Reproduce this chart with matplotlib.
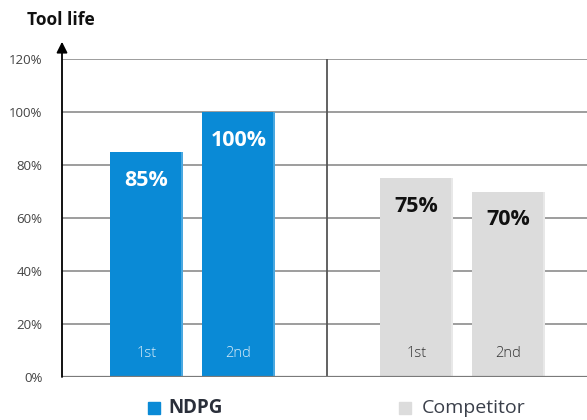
import matplotlib.pyplot as plt

plt.rcParams['font.family'] = ['Open Sans', 'DejaVu Sans']

groups = ["NDPG", "Competitor"]
runs = ["1st", "2nd"]
ndpg_vals = [85, 100]
comp_vals = [75, 70]
yticks = [0, 20, 40, 60, 80, 100, 120]

blue = "#0a8ad6"
blue_edge = "#4aa8e0"
grey = "#dcdcdc"
grey_edge = "#e8e8e8"

fig = plt.figure(figsize=(5.87, 4.2), dpi=100)
ax = fig.add_axes([62 / 587, 43 / 420, 525 / 587, 318 / 420])
ax.set_xlim(0, 525)
ax.set_ylim(0, 120)

# grid
for t in yticks[1:]:
    ax.axhline(t, color="#8c8c8c", lw=1.2, zorder=1)
ax.axvline(265, color="#555555", lw=1.3, zorder=1)

pos_ndpg = [84.5, 176.5]
pos_comp = [354.5, 446.5]
w = 73

for x, v, r in zip(pos_ndpg, ndpg_vals, runs):
    ax.bar(x, v, width=w, color=blue, zorder=2)
    ax.bar(x + w / 2 - 1, v, width=2, color=blue_edge, zorder=3)
    ax.text(x, v - 10.8, f"{v}%", ha="center", va="center", color="white",
            fontsize=15.5, fontweight="bold", zorder=4)
    ax.text(x, 8.8, r, ha="center", va="center", color="#d8ecf8",
            fontsize=10.5, fontweight="light", zorder=4)

for x, v, r in zip(pos_comp, comp_vals, runs):
    ax.bar(x, v, width=w, color=grey, zorder=2)
    ax.bar(x + w / 2 - 1, v, width=2, color=grey_edge, zorder=3)
    ax.text(x, v - 10.5, f"{v}%", ha="center", va="center", color="#111111",
            fontsize=15.5, fontweight="bold", zorder=4)
    ax.text(x, 8.8, r, ha="center", va="center", color="#333333",
            fontsize=10.5, fontweight="light", zorder=4)

ax.axhline(0, color="#7a7a7a", lw=1.6, zorder=5)

for s in ax.spines.values():
    s.set_visible(False)
ax.set_xticks([])
ax.set_yticks(yticks)
ax.set_yticklabels([f"{t}%" for t in yticks], color="#444444", fontsize=9.5)
ax.tick_params(axis="y", length=0, pad=14)

# y axis arrow
ax.annotate("", xy=(0, 126.5), xytext=(0, 0),
            arrowprops=dict(arrowstyle="-|>", color="black", lw=1.3,
                            mutation_scale=16, shrinkA=0, shrinkB=0),
            annotation_clip=False, zorder=6)

fig.text(27 / 587, 1 - 20 / 420, "Tool life", fontsize=12.5, fontweight="bold",
         color="#111111", va="center", ha="left")

# legend
fig.patches.append(plt.Rectangle((148 / 587, 1 - 414 / 420), 12 / 587, 12 / 420,
                                 transform=fig.transFigure, color=blue))
fig.text(168 / 587, 1 - 408 / 420, groups[0], fontsize=13.5, fontweight="bold",
         color="#2a2f3a", va="center", ha="left")
fig.patches.append(plt.Rectangle((399 / 587, 1 - 414 / 420), 12 / 587, 12 / 420,
                                 transform=fig.transFigure, color=grey))
fig.text(422 / 587, 1 - 408 / 420, groups[1], fontsize=14,
         color="#3a3f4a", va="center", ha="left")

fig.savefig("out.png", dpi=100)
